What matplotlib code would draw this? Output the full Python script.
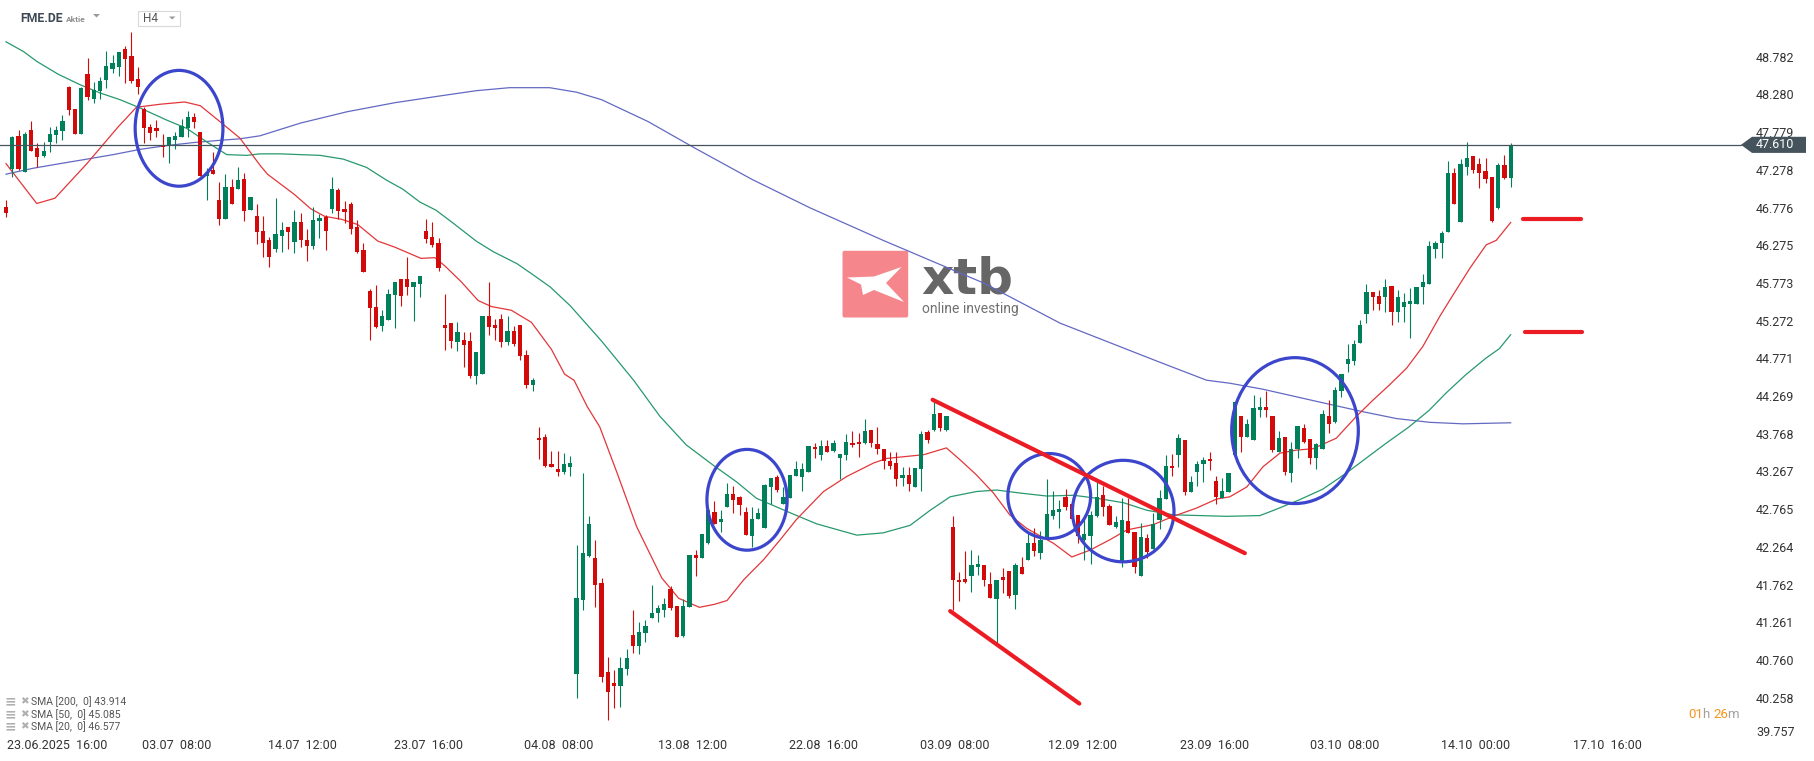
import matplotlib
matplotlib.use("Agg")
import matplotlib.pyplot as plt
from matplotlib.patches import Ellipse, Polygon, Rectangle, FancyBboxPatch
from matplotlib.transforms import blended_transform_factory, ScaledTranslation
import numpy as np

# FME.DE, H4 candles
opens = [
    46.78, 47.29, 47.73, 47.25, 47.81, 47.57, 47.46, 47.65, 47.74, 47.79,
    48.38, 48.08, 47.75, 48.55, 48.22, 48.33, 48.47, 48.62, 48.65, 48.89,
    48.79, 48.49, 48.08, 47.85, 47.84, 47.61, 47.59, 47.67, 47.72, 47.83,
    47.98, 47.78, 47.20, 47.28, 46.88, 46.62, 47.05, 47.02, 47.16, 46.74,
    46.66, 46.46, 46.35, 46.23, 46.40, 46.52, 46.32, 46.59, 46.35, 46.27,
    46.60, 46.65, 46.76, 47.01, 46.76, 46.82, 46.52, 46.21, 45.66, 45.46,
    45.20, 45.28, 45.61, 45.82, 45.82, 45.72, 45.76, 46.47, 46.39, 46.31,
    45.21, 45.24, 44.99, 45.02, 45.00, 44.54, 44.56, 45.34, 45.21, 45.29,
    44.99, 45.14, 45.21, 44.81, 44.42, 43.71, 43.72, 43.37, 43.30, 43.26,
    43.32, 40.58, 41.56, 42.14, 42.12, 41.79, 40.60, 40.46, 40.42, 40.64,
    41.09, 40.94, 41.12, 41.32, 41.39, 41.42, 41.71, 41.48, 41.08, 41.46,
    42.16, 42.12, 42.31, 42.73, 42.59, 42.80, 42.97, 42.93, 42.73, 42.41,
    42.63, 42.52, 43.06, 43.19, 42.83, 42.91, 43.21, 43.19, 43.26, 43.59,
    43.48, 43.61, 43.54, 43.44, 43.48, 43.65, 43.66, 43.64, 43.82, 43.63,
    43.57, 43.41, 43.38, 43.18, 43.22, 43.06, 43.30, 43.79, 43.82, 44.04,
    43.82, 42.53, 41.83, 41.84, 41.88, 42.00, 42.02, 41.77, 41.57, 41.86,
    41.94, 41.62, 42.00, 42.09, 42.31, 42.18, 42.40, 42.68, 42.73, 42.93,
    42.84, 42.69, 42.35, 42.41, 42.67, 42.95, 42.81, 42.53, 42.05, 42.61,
    42.46, 41.87, 42.38, 42.23, 42.62, 42.90, 43.34, 43.49, 43.69, 43.00,
    43.26, 43.36, 43.43, 43.14, 42.92, 42.99, 43.49, 44.00, 43.73, 43.68,
    44.09, 44.12, 44.01, 43.53, 43.73, 43.24, 43.56, 43.85, 43.70, 43.44,
    43.57, 44.00, 43.92, 44.34, 44.70, 44.74, 44.97, 45.36, 45.65, 45.60,
    45.59, 45.73, 45.39, 45.45, 45.50, 45.50, 45.72, 45.76, 46.22, 46.31,
    46.45, 47.24, 46.59, 47.32, 47.46, 47.36, 47.26, 47.18, 46.77, 47.34,
    47.17,
]
highs = [
    46.88, 47.73, 47.81, 47.78, 47.93, 47.63, 47.65, 47.85, 47.86, 48.01,
    48.39, 48.08, 48.38, 48.76, 48.44, 48.51, 48.86, 48.81, 48.84, 48.92,
    49.11, 48.64, 48.11, 47.89, 47.94, 47.75, 47.71, 47.78, 47.96, 48.06,
    48.04, 47.78, 47.30, 47.51, 47.11, 47.22, 47.15, 47.32, 47.23, 46.91,
    46.82, 46.66, 46.39, 46.90, 46.58, 46.52, 46.74, 46.70, 46.49, 46.78,
    46.69, 46.68, 47.18, 47.03, 46.86, 46.85, 46.61, 46.30, 45.69, 45.75,
    45.42, 45.69, 45.79, 45.82, 46.12, 45.78, 45.87, 46.63, 46.58, 46.37,
    45.62, 45.24, 45.25, 45.12, 45.12, 44.85, 45.33, 45.79, 45.30, 45.36,
    45.33, 45.20, 45.21, 44.88, 44.51, 43.86, 43.76, 43.54, 43.54, 43.51,
    43.47, 42.29, 43.24, 42.68, 42.36, 41.85, 40.80, 40.62, 40.80, 40.90,
    41.42, 41.26, 41.29, 41.76, 41.49, 41.58, 41.74, 41.48, 41.57, 42.16,
    42.22, 42.44, 42.78, 42.87, 42.75, 43.11, 43.07, 42.94, 42.79, 42.79,
    42.78, 43.10, 43.18, 43.22, 43.06, 43.22, 43.40, 43.38, 43.61, 43.64,
    43.69, 43.68, 43.69, 43.50, 43.77, 43.80, 43.78, 43.97, 43.82, 43.86,
    43.57, 43.52, 43.53, 43.32, 43.32, 43.31, 43.80, 43.82, 44.20, 44.04,
    44.00, 42.67, 41.93, 42.21, 42.22, 42.16, 42.02, 41.93, 41.83, 41.98,
    41.94, 42.05, 42.13, 42.48, 42.51, 42.47, 43.16, 43.01, 42.89, 43.04,
    42.85, 42.69, 42.69, 42.74, 43.13, 43.07, 42.84, 42.68, 42.91, 42.91,
    42.46, 42.58, 42.44, 42.71, 43.02, 43.49, 43.50, 43.77, 43.69, 43.20,
    43.41, 43.46, 43.53, 43.21, 43.18, 43.24, 44.20, 44.00, 43.97, 44.29,
    44.26, 44.34, 44.01, 43.80, 43.73, 43.66, 43.87, 43.90, 43.70, 43.65,
    44.09, 44.22, 44.39, 44.56, 44.96, 45.01, 45.28, 45.76, 45.65, 45.68,
    45.83, 45.73, 45.68, 45.64, 45.71, 45.72, 45.89, 46.33, 46.33, 46.47,
    47.40, 47.30, 47.42, 47.65, 47.46, 47.44, 47.43, 47.18, 47.37, 47.48,
    47.64,
]
lows = [
    46.65, 47.18, 47.28, 47.25, 47.53, 47.32, 47.45, 47.52, 47.64, 47.68,
    48.01, 47.75, 47.75, 48.21, 48.16, 48.22, 48.37, 48.56, 48.53, 48.43,
    48.43, 48.29, 47.64, 47.68, 47.72, 47.45, 47.37, 47.55, 47.72, 47.72,
    47.84, 47.20, 46.87, 47.22, 46.54, 46.62, 46.82, 47.02, 46.60, 46.74,
    46.29, 46.12, 45.99, 46.18, 46.18, 46.23, 46.17, 46.25, 46.07, 46.23,
    46.37, 46.21, 46.71, 46.62, 46.57, 46.43, 46.17, 45.92, 45.01, 45.18,
    45.13, 45.28, 45.18, 45.47, 45.61, 45.27, 45.59, 46.30, 46.25, 45.93,
    44.88, 44.91, 44.87, 44.66, 44.51, 44.43, 44.56, 45.08, 45.01, 44.92,
    44.95, 44.93, 44.75, 44.38, 44.34, 43.43, 43.33, 43.32, 43.20, 43.23,
    43.20, 40.25, 41.42, 42.13, 41.46, 40.47, 39.96, 40.12, 40.13, 40.56,
    40.85, 40.84, 41.00, 41.32, 41.27, 41.33, 41.42, 41.07, 41.06, 41.46,
    41.87, 42.12, 42.30, 42.57, 42.46, 42.80, 42.72, 42.69, 42.42, 42.26,
    42.63, 42.52, 42.84, 43.00, 42.83, 42.91, 43.21, 43.01, 43.26, 43.44,
    43.42, 43.53, 43.53, 43.16, 43.42, 43.59, 43.46, 43.63, 43.59, 43.50,
    43.30, 43.30, 43.07, 43.07, 43.01, 43.06, 43.01, 43.64, 43.81, 43.81,
    43.80, 41.43, 41.54, 41.79, 41.67, 41.89, 41.75, 41.58, 40.98, 41.65,
    41.59, 41.44, 41.90, 42.09, 42.14, 42.10, 42.40, 42.64, 42.52, 42.75,
    42.64, 42.31, 42.09, 42.03, 42.66, 42.67, 42.55, 42.51, 42.00, 42.45,
    41.91, 41.87, 42.12, 42.23, 42.50, 42.90, 43.20, 43.32, 42.95, 43.00,
    43.07, 43.13, 43.28, 42.84, 42.91, 42.99, 43.48, 43.53, 43.73, 43.68,
    43.99, 43.99, 43.53, 43.53, 43.22, 43.13, 43.44, 43.64, 43.37, 43.30,
    43.57, 43.78, 43.91, 44.26, 44.59, 44.68, 44.97, 45.24, 45.41, 45.41,
    45.39, 45.22, 45.26, 45.25, 45.04, 45.50, 45.50, 45.76, 46.11, 46.10,
    46.45, 46.82, 46.59, 47.21, 47.24, 47.03, 47.10, 46.58, 46.76, 47.16,
    47.05,
]
closes = [
    46.70, 47.71, 47.29, 47.75, 47.53, 47.45, 47.53, 47.75, 47.81, 47.93,
    48.07, 47.75, 48.36, 48.24, 48.34, 48.46, 48.66, 48.70, 48.84, 48.75,
    48.46, 48.38, 47.83, 47.77, 47.80, 47.58, 47.71, 47.73, 47.86, 47.98,
    47.91, 47.20, 47.24, 47.22, 46.62, 47.05, 46.82, 47.14, 46.73, 46.91,
    46.45, 46.31, 46.12, 46.42, 46.48, 46.45, 46.59, 46.35, 46.27, 46.61,
    46.64, 46.47, 47.02, 46.73, 46.72, 46.49, 46.18, 45.92, 45.44, 45.19,
    45.34, 45.63, 45.79, 45.60, 45.72, 45.78, 45.86, 46.36, 46.28, 45.97,
    45.17, 45.00, 45.12, 44.95, 44.53, 44.85, 45.33, 45.19, 45.17, 44.99,
    45.13, 44.96, 44.80, 44.41, 44.48, 43.68, 43.34, 43.33, 43.26, 43.37,
    43.38, 41.58, 42.18, 42.57, 41.76, 40.54, 40.33, 40.42, 40.65, 40.79,
    40.94, 41.13, 41.21, 41.39, 41.45, 41.51, 41.45, 41.07, 41.48, 42.16,
    42.12, 42.44, 42.76, 42.57, 42.64, 42.97, 42.89, 42.82, 42.42, 42.64,
    42.71, 43.09, 43.18, 43.02, 42.93, 43.22, 43.30, 43.30, 43.61, 43.56,
    43.61, 43.53, 43.65, 43.50, 43.66, 43.62, 43.63, 43.81, 43.65, 43.56,
    43.40, 43.34, 43.17, 43.22, 43.10, 43.31, 43.77, 43.69, 44.03, 43.84,
    44.00, 41.82, 41.80, 41.80, 42.02, 42.04, 41.82, 41.58, 41.82, 41.82,
    41.61, 42.02, 41.90, 42.31, 42.21, 42.36, 42.70, 42.75, 42.77, 42.79,
    42.64, 42.41, 42.44, 42.69, 42.93, 42.80, 42.55, 42.59, 42.62, 42.45,
    42.00, 42.40, 42.20, 42.57, 42.91, 43.34, 43.31, 43.71, 43.00, 43.13,
    43.36, 43.42, 43.40, 42.93, 43.01, 43.24, 44.19, 43.72, 43.90, 44.11,
    44.13, 44.08, 43.55, 43.71, 43.26, 43.57, 43.87, 43.66, 43.44, 43.63,
    44.03, 43.90, 44.35, 44.56, 44.76, 44.96, 45.22, 45.65, 45.59, 45.50,
    45.72, 45.39, 45.58, 45.52, 45.53, 45.72, 45.78, 46.27, 46.30, 46.44,
    47.23, 46.82, 47.36, 47.44, 47.27, 47.23, 47.16, 46.60, 47.34, 47.17,
    47.61,
]

# moving averages, sampled along the drawn lines (x = candle number)
sma20_x = [0, 4.9, 7.8, 12.9, 17.9, 20.8, 24.6, 28.5, 31, 34.1, 37.3, 40.5, 41.7,
           46, 48.6, 50.8, 53.5, 56.1, 59.3, 62, 66.2, 68.4, 70, 72.6, 75.3, 77.4,
           80.6, 83.8, 87, 89.1, 90.6, 92.7, 94.7, 97.5, 100.6, 104.6, 107.3,
           110.6, 113, 115, 117.7, 120.8, 123.5, 126.1, 130.4, 134.1, 138.4,
           140.5, 146.4, 150, 152.2, 154.8, 157.5, 160.1, 162.8, 167.1, 170,
           172.9, 176.1, 178.8, 183, 186.2, 189.9, 193.1, 195.2, 197.9, 200.5,
           203.2, 205.8, 208.5, 212.2, 215.4, 218.1, 220.7, 223.4, 226, 228.7,
           231.3, 233.5, 236.1, 237.7, 240]
sma20_y = [47.36, 46.83, 46.90, 47.36, 47.85, 48.11, 48.15, 48.18, 48.13, 47.92,
           47.70, 47.34, 47.22, 46.95, 46.76, 46.66, 46.62, 46.55, 46.33, 46.25,
           46.10, 46.11, 46.00, 45.79, 45.54, 45.46, 45.41, 45.25, 44.89, 44.56,
           44.48, 44.13, 43.86, 43.24, 42.53, 41.85, 41.58, 41.46, 41.50, 41.55,
           41.83, 42.09, 42.36, 42.63, 43.00, 43.20, 43.38, 43.44, 43.49, 43.58,
           43.42, 43.22, 42.98, 42.69, 42.51, 42.31, 42.13, 42.22, 42.36, 42.49,
           42.56, 42.67, 42.78, 42.90, 42.93, 43.06, 43.33, 43.51, 43.55, 43.57,
           43.71, 44.00, 44.22, 44.42, 44.64, 44.93, 45.33, 45.68, 45.97, 46.28,
           46.34, 46.577]

sma50_x = [0, 2.8, 4.9, 8.3, 11.8, 15, 18.2, 21.4, 25.6, 28.8, 32, 35.2, 38.4,
           40.5, 43.7, 46.9, 50.1, 53.8, 57.5, 60.7, 63.3, 66, 68.6, 71.3, 75,
           77.7, 81.5, 84.1, 86.8, 90, 95, 100.1, 104.3, 108.5, 112.8, 116.5,
           119.7, 125, 129.3, 135.7, 139.9, 144.2, 147.4, 150.6, 154.8, 158,
           161.7, 166, 170.3, 174, 178.3, 182, 186.2, 190.5, 194.7, 200, 202.5,
           206.3, 210, 213.7, 216.9, 220.1, 223.8, 227, 229.7, 232.8, 236,
           238.2, 240]
sma50_y = [48.98, 48.85, 48.72, 48.55, 48.41, 48.30, 48.21, 48.10, 47.94, 47.83,
           47.65, 47.48, 47.47, 47.49, 47.49, 47.48, 47.47, 47.42, 47.31, 47.14,
           47.02, 46.85, 46.74, 46.57, 46.33, 46.19, 46.03, 45.88, 45.72, 45.47,
           45.00, 44.48, 44.00, 43.62, 43.35, 43.13, 42.91, 42.72, 42.57, 42.42,
           42.45, 42.55, 42.75, 42.93, 43.00, 43.02, 42.98, 42.94, 42.95, 42.91,
           42.85, 42.75, 42.69, 42.68, 42.67, 42.68, 42.76, 42.89, 43.03, 43.24,
           43.44, 43.64, 43.86, 44.08, 44.31, 44.55, 44.77, 44.90, 45.085]

sma200_x = [0, 4.4, 8.6, 12.9, 17.1, 21.4, 25.6, 29.9, 34.1, 37.3, 40.5, 47,
            54.4, 62, 69.2, 75, 80.3, 86.7, 91, 95, 102.4, 109.8, 119, 128.3,
            139.9, 156, 168.1, 183.7, 191.5, 195.2, 200.5, 205.8, 211.1, 216.5,
            221.8, 227.1, 232.4, 240]
sma200_y = [47.22, 47.30, 47.36, 47.42, 47.48, 47.55, 47.60, 47.64, 47.67, 47.69,
            47.73, 47.90, 48.05, 48.17, 48.26, 48.33, 48.37, 48.37, 48.31, 48.21,
            47.92, 47.57, 47.15, 46.77, 46.34, 45.77, 45.24, 44.73, 44.48, 44.44,
            44.36, 44.26, 44.16, 44.06, 43.97, 43.92, 43.90, 43.914]

price_ticks = [48.782, 48.280, 47.779, 47.278, 46.776, 46.275, 45.773, 45.272,
               44.771, 44.269, 43.768, 43.267, 42.765, 42.264, 41.762, 41.261,
               40.760, 40.258, 39.757]
time_labels = ["23.06.2025  16:00", "03.07  08:00", "14.07  12:00", "23.07  16:00",
               "04.08  08:00", "13.08  12:00", "22.08  16:00", "03.09  08:00",
               "12.09  12:00", "23.09  16:00", "03.10  08:00", "14.10  00:00",
               "17.10  16:00"]
time_ticks = [8.1, 27.2, 47.3, 67.4, 88.2, 109.5, 130.4, 151.4, 171.7, 192.7,
              213.6, 234.4, 255.5]

# hand-drawn annotations (candle number, price)
circles = [(27.6, 47.83, 14.0, 1.54), (118.2, 42.89, 12.8, 1.34),
           (166.4, 42.94, 13.2, 1.13), (178.2, 42.74, 16.2, 1.35),
           (205.6, 43.81, 20.2, 1.94)]
trend_lines = [((147.8, 44.22), (197.6, 42.18)), ((150.6, 41.41), (171.2, 40.18))]
levels = [(241.9, 251.2, 46.63), (242.3, 251.3, 45.125)]

GREEN = '#00805a'
RED = '#d20a0a'
W, H = 1815, 761

plt.rcParams['font.family'] = ['Roboto', 'DejaVu Sans']

fig = plt.figure(figsize=(W / 100, H / 100), dpi=100)
fig.patch.set_facecolor('white')


def fx(px):
    return px / W


def fy(py):
    return 1 - py / H


# watermark logo sits under the chart
logo = fig.add_axes([fx(830), fy(330), 230 / W, 90 / H], zorder=0)
logo.set_xlim(0, 230)
logo.set_ylim(90, 0)
logo.axis('off')
logo.add_patch(FancyBboxPatch((12.5, 10.8), 65.7, 66.7,
                              boxstyle='round,pad=0,rounding_size=2',
                              fc='#f5868c', ec='none'))
logo.add_patch(Polygon([(17, 37.5), (44, 36.5), (71.5, 27), (56, 43),
                        (74, 62), (44, 50), (33, 55), (31, 44.5)],
                       closed=True, fc='white', ec='none'))
logo.text(91, 53, 'xtb', fontsize=36, fontweight='bold', color='#666666',
          va='baseline', ha='left', family='DejaVu Sans')
logo.text(92, 73, 'online investing', fontsize=10, color='#707070',
          va='baseline', ha='left')

ax = fig.add_axes([0, fy(736), 1742 / W, 736 / H], zorder=1)
ax.patch.set_visible(False)
ax.set_xlim(-0.96, 276.9)
ax.set_ylim(39.749, 49.536)
for s in ax.spines.values():
    s.set_visible(False)

# candles
o = np.array(opens)
h = np.array(highs)
lo = np.array(lows)
c = np.array(closes)
x = np.arange(len(o))
colors = np.where(c >= o, GREEN, RED)
ax.vlines(x, lo, h, colors=colors, lw=0.8, zorder=3)
ax.bar(x, np.maximum(np.abs(c - o), 0.03), width=0.68, bottom=np.minimum(o, c),
       color=colors, lw=0, zorder=4)

# moving averages
ax.plot(sma200_x, sma200_y, color='#6369c2', lw=0.9, zorder=2)
ax.plot(sma50_x, sma50_y, color='#27996d', lw=0.9, zorder=2)
ax.plot(sma20_x, sma20_y, color='#e3363a', lw=0.9, zorder=2)

# annotations
for cx, cy, w, hh in circles:
    ax.add_patch(Ellipse((cx, cy), w, hh, fill=False, ec='#3c46cc', lw=2.3, zorder=6))
for (x0, y0), (x1, y1) in trend_lines:
    ax.plot([x0, x1], [y0, y1], color='#ec1c24', lw=3, solid_capstyle='round', zorder=6)
for x0, x1, yv in levels:
    ax.plot([x0, x1], [yv, yv], color='#ec1c24', lw=3, solid_capstyle='round', zorder=6)

# last price line and tag
last = closes[-1]
ax.axhline(last, color='#45535d', lw=0.9, zorder=5)
trans = blended_transform_factory(fig.transFigure, ax.transData)
dh = 0.107
ax.add_patch(Polygon([(fx(1741), last), (fx(1752), last + dh), (fx(1806), last + dh),
                      (fx(1806), last - dh), (fx(1752), last - dh)], closed=True,
                     transform=trans, fc='#45535d', ec='none', clip_on=False, zorder=10))
ax.text(fx(1756), last, f'{last:.3f}', transform=trans, color='white', fontsize=9,
        va='center', ha='left', zorder=11, clip_on=False)

# axes
ax.yaxis.tick_right()
ax.set_yticks(price_ticks)
ax.set_yticklabels([f'{v:.3f}' for v in price_ticks])
ax.tick_params(axis='y', length=0, pad=10, labelsize=9, labelcolor='#333333')
bottom_lab = ax.get_yticklabels()[-1]
bottom_lab.set_transform(bottom_lab.get_transform()
                         + ScaledTranslation(0, 4 / 100, fig.dpi_scale_trans))
ax.set_xticks(time_ticks)
ax.set_xticklabels(time_labels)
ax.tick_params(axis='x', length=0, pad=2, labelsize=9, labelcolor='#333333')

# header
fig.text(fx(20), fy(19), 'FME.DE', fontsize=8.8, fontweight='bold', color='#3d4954', va='center')
fig.text(fx(65.5), fy(19.5), 'Aktie', fontsize=6, fontweight='bold', color='#8e8e8e', va='center')
fig.patches.append(Polygon([(fx(93), fy(14)), (fx(100), fy(14)), (fx(96.5), fy(17.5))],
                           closed=True, transform=fig.transFigure, fc='#9a9a9a', ec='none'))
fig.patches.append(Rectangle((fx(137.7), fy(25.7)), 42.3 / W, 14.7 / H,
                             transform=fig.transFigure, fc='white', ec='#d9d9d9', lw=0.8))
fig.text(fx(143), fy(18.8), 'H4', fontsize=8.5, color='#555555', va='center')
fig.patches.append(Polygon([(fx(169), fy(16.5)), (fx(175.5), fy(16.5)), (fx(172.2), fy(19.5))],
                           closed=True, transform=fig.transFigure, fc='#9a9a9a', ec='none'))

# indicator legend
legend_rows = [('200', sma200_y[-1]), ('50', sma50_y[-1]), ('20', sma20_y[-1])]
for i, (period, val) in enumerate(legend_rows):
    yy = fy(701.7 + i * 12.5)
    fig.text(fx(5), yy, '≡', fontsize=10, fontweight='bold', color='#b0b0b0',
             va='center', family='DejaVu Sans')
    fig.text(fx(20.5), yy, '✖', fontsize=7.5, color='#b0b0b0', va='center',
             family='DejaVu Sans')
    fig.text(fx(31.5), yy, f'SMA [{period},  0] {val:.3f}', fontsize=7.5,
             color='#555555', va='center')

# candle countdown
for px, txt, col in [(1688, '01', '#f7941d'), (1702, 'h', '#a0a0a0'),
                     (1713, '26', '#f7941d'), (1727, 'm', '#a0a0a0')]:
    fig.text(fx(px), fy(714), txt, fontsize=9.5, color=col, va='center')

fig.savefig('out.png', dpi=100, facecolor='white')
